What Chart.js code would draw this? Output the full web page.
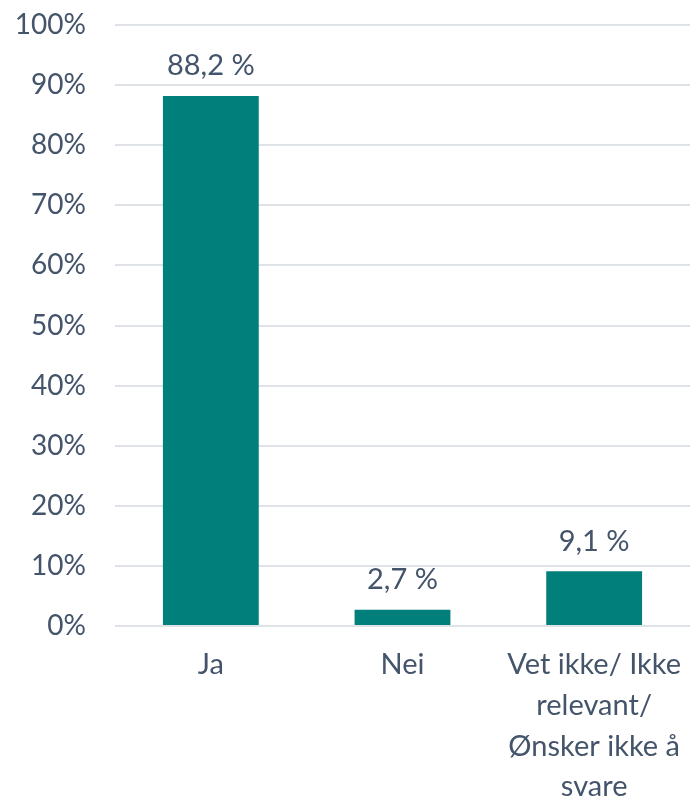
<!DOCTYPE html>
<html>
<head>
<meta charset="utf-8">
<script src="https://cdn.jsdelivr.net/npm/chart.js@4.4.0/dist/chart.umd.min.js"></script>
<style>
  html, body { margin: 0; padding: 0; background: #fff; }
  #wrap { width: 690px; height: 796px; position: relative; }
</style>
</head>
<body>
<div id="wrap"><canvas id="myChart"></canvas></div>
<script>
// svar-kategorier og andeler (prosent)
const categories = ['Ja', 'Nei', ['Vet ikke/ Ikke', 'relevant/', 'Ønsker ikke å', 'svare']];
const shares = [88.2, 2.7, 9.1];
const shareLabels = ['88,2 %', '2,7 %', '9,1 %'];

const textColor = '#44546a';
const barColor = '#007f7b';
const gridColor = '#dfe3e8';

// tekst over hver søyle
const valueLabels = {
  id: 'valueLabels',
  afterDatasetsDraw(chart) {
    const ctx = chart.ctx;
    const meta = chart.getDatasetMeta(0);
    ctx.save();
    ctx.font = '29px Lato';
    ctx.fillStyle = textColor;
    ctx.textAlign = 'center';
    ctx.textBaseline = 'middle';
    meta.data.forEach((bar, i) => {
      ctx.fillText(shareLabels[i], bar.x, bar.y - 30);
    });
    ctx.restore();
  }
};

const ctx = document.getElementById('myChart').getContext('2d');
const myChart = new Chart(ctx, {
  type: 'bar',
  data: {
    labels: categories,
    datasets: [{
      data: shares,
      backgroundColor: barColor,
      barPercentage: 0.5,
      categoryPercentage: 1.0
    }]
  },
  options: {
    responsive: true,
    maintainAspectRatio: false,
    animation: false,
    layout: { autoPadding: false, padding: { top: 25, right: 0, left: 0, bottom: 0 } },
    plugins: {
      legend: { display: false },
      tooltip: { enabled: false }
    },
    scales: {
      x: {
        grid: { display: false },
        border: { display: false },
        ticks: {
          color: textColor,
          font: { family: 'Lato', size: 29, lineHeight: 1.41 },
          padding: 10,
          maxRotation: 0,
          autoSkip: false
        },
        afterFit(scale) {
          scale.height = 170;
          scale.paddingLeft = 0;
          scale.paddingRight = 0;
        }
      },
      y: {
        min: 0,
        max: 100,
        grid: { color: gridColor, lineWidth: 2, drawTicks: false },
        border: { display: false },
        ticks: {
          stepSize: 10,
          color: textColor,
          font: { family: 'Lato', size: 28 },
          padding: 29,
          callback: (v) => v + '%'
        },
        afterFit(scale) {
          scale.width = 115;
          scale.paddingTop = 0;
          scale.paddingBottom = 0;
        }
      }
    }
  },
  plugins: [valueLabels]
});
</script>
</body>
</html>
